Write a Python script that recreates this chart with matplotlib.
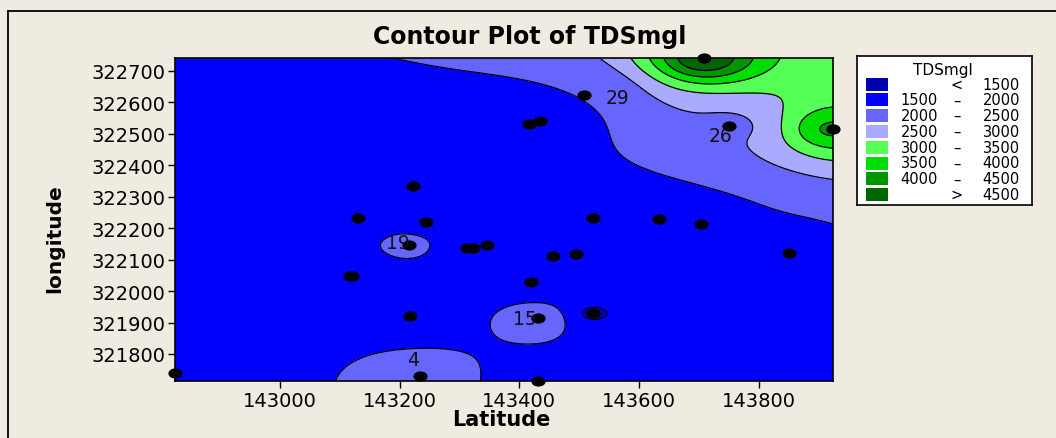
import numpy as np
import matplotlib
matplotlib.use('Agg')
import matplotlib.pyplot as plt
from matplotlib.path import Path
from matplotlib.transforms import Affine2D
from matplotlib.patches import Rectangle
from matplotlib.lines import Line2D

# sampling sites and their TDS readings in mg/l
latitude = [143709, 143508, 143417, 143434, 143751, 143924, 143223, 143131,
            143245, 143523, 143634, 143704, 143850, 143215, 143312, 143322,
            143346, 143457, 143494, 143118, 143121, 143420, 143217, 143432,
            143523, 142825, 143234, 143432]
longitude = [322741, 322624, 322531, 322541, 322525, 322515, 322334, 322232,
             322219, 322232, 322229, 322213, 322120, 322146, 322136, 322136,
             322146, 322111, 322117, 322047, 322047, 322028, 321920, 321913,
             321929, 321741, 321729, 321714]
tds = [5000, 2000, 1700, 1700, 2400, 4100, 1600, 1650,
       1750, 1800, 1800, 1850, 1800, 2350, 1700, 1700,
       1700, 1700, 1700, 1700, 1700, 1700, 1700, 2500,
       1420, 1600, 2450, 1750]
site_id = ['', '29', '', '', '26', '', '', '',
           '', '', '', '', '', '19', '', '',
           '', '', '', '', '', '', '', '15',
           '', '', '4', '']

# contour classes
bounds = [1500, 2000, 2500, 3000, 3500, 4000, 4500]
class_colors = ['#0000B0', '#0000FF', '#6666FF', '#AAAAFF',
                '#55FF55', '#00DD00', '#009400', '#006400']

x_ticks = [143000, 143200, 143400, 143600, 143800]
y_ticks = [321800, 321900, 322000, 322100, 322200, 322300, 322400,
           322500, 322600, 322700]

# label offsets in pixels (position only)
label_offsets = {'29': (34, -3), '26': (-9, -10), '19': (-11, 3),
                 '15': (-14, 0), '4': (-7, 17)}

bg = '#EFEBE1'
lx = np.array(latitude, dtype=float)
ly = np.array(longitude, dtype=float)
lv = np.array(tds, dtype=float)

# inverse distance surface on a grid over the data extent
xs = np.linspace(lx.min(), lx.max(), 260)
ys = np.linspace(ly.min(), ly.max(), 260)
gx, gy = np.meshgrid(xs, ys)
nx = (gx[..., None] - lx) / (lx.max() - lx.min())
ny = (gy[..., None] - ly) / (ly.max() - ly.min())
w = 1.0 / (nx ** 2 + ny ** 2 + 1e-9)
grid = (w * lv).sum(axis=-1) / w.sum(axis=-1)

fig = plt.figure(figsize=(10.56, 4.39), dpi=100, facecolor=bg)
ax = fig.add_axes([175 / 1056, 1 - 382 / 439, 658 / 1056, 323 / 439])

levels = [0] + bounds + [100000]
ax.contourf(gx, gy, grid, levels=levels, colors=class_colors)
ax.contour(gx, gy, grid, levels=bounds, colors='black', linewidths=0.9)

dot = Path.unit_circle().transformed(Affine2D().scale(1.45, 1.0))
ax.scatter(lx, ly, s=85, marker=dot, color='black', zorder=5, clip_on=False)

for xi, yi, sid in zip(lx, ly, site_id):
    if sid:
        ax.annotate(sid, (xi, yi), xytext=label_offsets[sid],
                    textcoords='offset pixels', ha='center', va='center',
                    fontsize=13.5, color='#111111', zorder=6)

ax.set_xlim(lx.min(), lx.max())
ax.set_ylim(ly.min(), ly.max())
ax.set_xticks(x_ticks)
ax.set_yticks(y_ticks)
ax.tick_params(labelsize=14, length=5, width=1, pad=2, direction='out')
for sp in ax.spines.values():
    sp.set_linewidth(1.2)

fig.text(530 / 1056, 1 - 37 / 439, 'Contour Plot of TDSmgl', ha='center',
         va='center', fontsize=17, fontweight='bold')
fig.text(501 / 1056, 1 - 420 / 439, 'Latitude', ha='center', va='center',
         fontsize=15, fontweight='bold')
fig.text(55 / 1056, 1 - 239 / 439, 'longitude', ha='center', va='center',
         rotation=90, fontsize=14.5, fontweight='bold')

# outer frame
fig.add_artist(Line2D([7.5 / 1056, 7.5 / 1056], [0, 1 - 12 / 439],
                      color='black', lw=1.3, transform=fig.transFigure))
fig.add_artist(Line2D([7.5 / 1056, 1], [1 - 12 / 439, 1 - 12 / 439],
                      color='black', lw=1.3, transform=fig.transFigure))

# legend box drawn in pixel units
lax = fig.add_axes([857 / 1056, 1 - 206 / 439, 175 / 1056, 149 / 439])
lax.set_xlim(0, 175)
lax.set_ylim(149, 0)
lax.set_xticks([])
lax.set_yticks([])
lax.set_facecolor('white')
for sp in lax.spines.values():
    sp.set_linewidth(1.2)
lax.text(86, 13, 'TDSmgl', ha='center', va='center', fontsize=11)
for i, col in enumerate(class_colors):
    yc = 28 + i * 15.8
    lax.add_patch(Rectangle((9, yc - 6.5), 22, 13, facecolor=col, edgecolor='none'))
    if i == 0:
        lax.text(100, yc, '<', ha='center', va='center', fontsize=10.5)
        lax.text(163, yc, str(bounds[0]), ha='right', va='center', fontsize=10.5)
    elif i == len(class_colors) - 1:
        lax.text(100, yc, '>', ha='center', va='center', fontsize=10.5)
        lax.text(163, yc, str(bounds[-1]), ha='right', va='center', fontsize=10.5)
    else:
        lax.text(81, yc, str(bounds[i - 1]), ha='right', va='center', fontsize=10.5)
        lax.text(100, yc, '\u2013', ha='center', va='center', fontsize=10.5)
        lax.text(163, yc, str(bounds[i]), ha='right', va='center', fontsize=10.5)

fig.savefig('out.png', dpi=100, facecolor=bg)
